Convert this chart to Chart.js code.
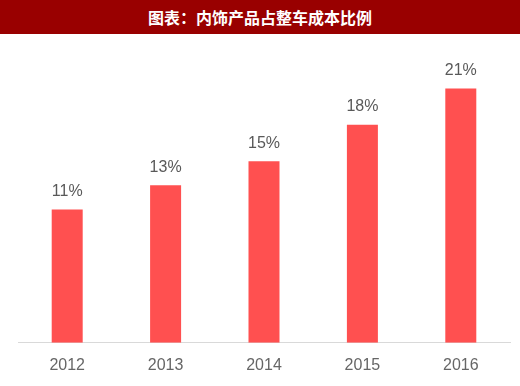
<!DOCTYPE html>
<html>
<head>
<meta charset="utf-8">
<script src="https://cdn.jsdelivr.net/npm/chart.js@4/dist/chart.umd.min.js"></script>
<style>
  html, body { margin: 0; padding: 0; background: #fff; }
  .title {
    width: 520px; height: 34px; background: #990000; color: #fff;
    font: bold 16px "Noto Sans CJK SC", sans-serif; text-align: center; line-height: 34px;
  }
  .wrap { width: 520px; height: 352px; position: relative; }
</style>
</head>
<body>
<div class="title">图表：内饰产品占整车成本比例</div>
<div class="wrap"><canvas id="chart"></canvas></div>
<script>
const years = ['2012', '2013', '2014', '2015', '2016'];
const shares = [11, 13, 15, 18, 21];

// draw the percent labels above each bar
const valueLabels = {
    id: 'valueLabels',
    afterDatasetsDraw(chart) {
        const ctx = chart.ctx;
        const meta = chart.getDatasetMeta(0);
        ctx.save();
        ctx.fillStyle = '#595959';
        ctx.font = '16px "Liberation Sans", sans-serif';
        ctx.textAlign = 'center';
        ctx.textBaseline = 'bottom';
        meta.data.forEach((bar, i) => {
            ctx.fillText(shares[i] + '%', bar.x, bar.y - 10);
        });
        ctx.restore();
    }
};

new Chart(document.getElementById('chart').getContext('2d'), {
    type: 'bar',
    data: {
        labels: years,
        datasets: [{
            data: shares,
            backgroundColor: '#FF5050',
            categoryPercentage: 1,
            barPercentage: 0.315
        }]
    },
    options: {
        responsive: true,
        maintainAspectRatio: false,
        animation: false,
        layout: { padding: { top: 0, left: 18, right: 10, bottom: -2 } },
        scales: {
            x: {
                grid: { display: false, drawTicks: false },
                border: { color: '#d9d9d9', width: 1 },
                ticks: { color: '#666', font: { size: 16, family: '"Liberation Sans", sans-serif' }, padding: 13 }
            },
            y: { display: false, min: 0, max: 25.5 }
        },
        plugins: {
            legend: { display: false },
            tooltip: { enabled: false }
        }
    },
    plugins: [valueLabels]
});
</script>
</body>
</html>
